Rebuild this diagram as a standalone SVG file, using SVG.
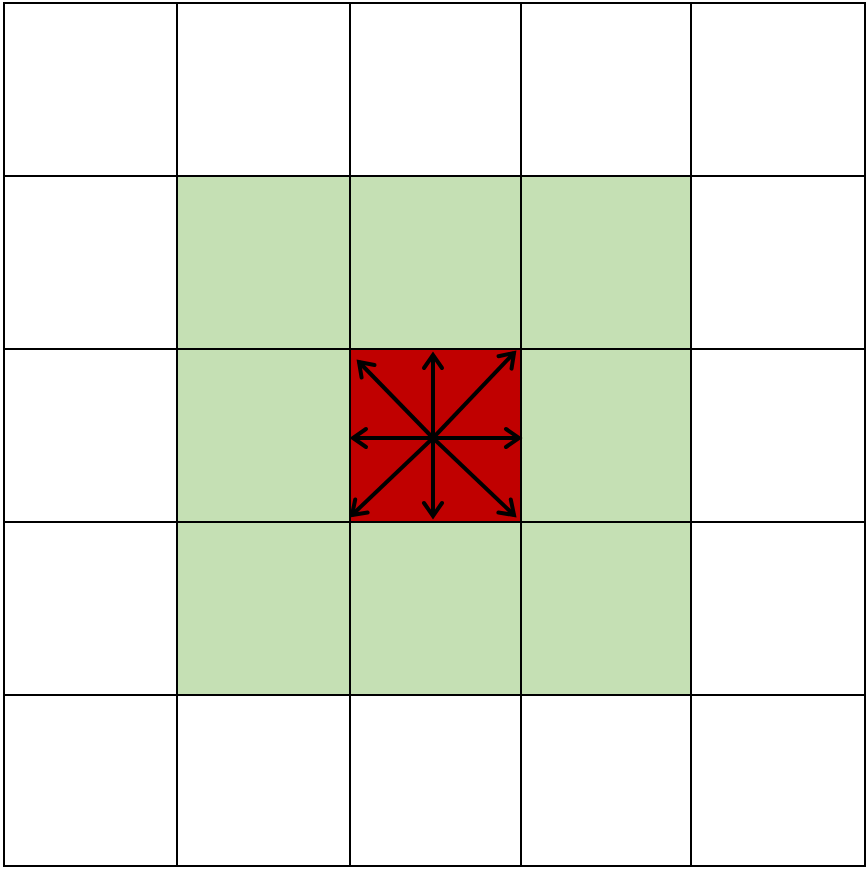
<svg xmlns="http://www.w3.org/2000/svg" width="868" height="869" viewBox="0 0 868 869">
<defs>
<style>
.g{fill:#c5e0b4}
.grid line{stroke:#000;stroke-width:2}
.arr line{stroke:#000;stroke-width:4;marker-end:url(#ah)}
</style>
<marker id="ah" markerWidth="30" markerHeight="30" refX="0" refY="0" orient="auto" markerUnits="userSpaceOnUse" viewBox="-15 -15 30 30" overflow="visible">
<path d="M-13,-9 L0,0 L-13,9" fill="none" stroke="#000" stroke-width="4" stroke-linecap="round" stroke-linejoin="miter"/>
</marker>
</defs>
<rect width="868" height="869" fill="#fff"/>
<g id="neighbors">
<rect class="g" x="177" y="176" width="173" height="173"/>
<rect class="g" x="350" y="176" width="171" height="173"/>
<rect class="g" x="521" y="176" width="170" height="173"/>
<rect class="g" x="177" y="349" width="173" height="173"/>
<rect class="g" x="521" y="349" width="170" height="173"/>
<rect class="g" x="177" y="522" width="173" height="173"/>
<rect class="g" x="350" y="522" width="171" height="173"/>
<rect class="g" x="521" y="522" width="170" height="173"/>
</g>
<g id="center">
<rect x="349" y="349" width="171" height="172" fill="#c00000"/>
</g>
<g id="grid" class="grid">
<line x1="4" y1="2" x2="4" y2="867"/>
<line x1="177" y1="2" x2="177" y2="867"/>
<line x1="350" y1="2" x2="350" y2="867"/>
<line x1="521" y1="2" x2="521" y2="867"/>
<line x1="691" y1="2" x2="691" y2="867"/>
<line x1="865" y1="2" x2="865" y2="867" stroke-width="3"/>
<line x1="3" y1="3" x2="866" y2="3"/>
<line x1="3" y1="176" x2="866" y2="176"/>
<line x1="3" y1="349" x2="866" y2="349"/>
<line x1="3" y1="522" x2="866" y2="522"/>
<line x1="3" y1="695" x2="866" y2="695"/>
<line x1="3" y1="866" x2="866" y2="866" stroke-width="3"/>
</g>
<g id="connectors" class="arr">
<line x1="433" y1="438" x2="433" y2="355"/>
<line x1="433" y1="438" x2="433" y2="516"/>
<line x1="433" y1="438" x2="353" y2="438"/>
<line x1="433" y1="438" x2="519" y2="438"/>
<line x1="433" y1="438" x2="514" y2="353"/>
<line x1="433" y1="438" x2="359" y2="362"/>
<line x1="433" y1="438" x2="352" y2="515"/>
<line x1="433" y1="438" x2="514" y2="515"/>
</g>
</svg>
